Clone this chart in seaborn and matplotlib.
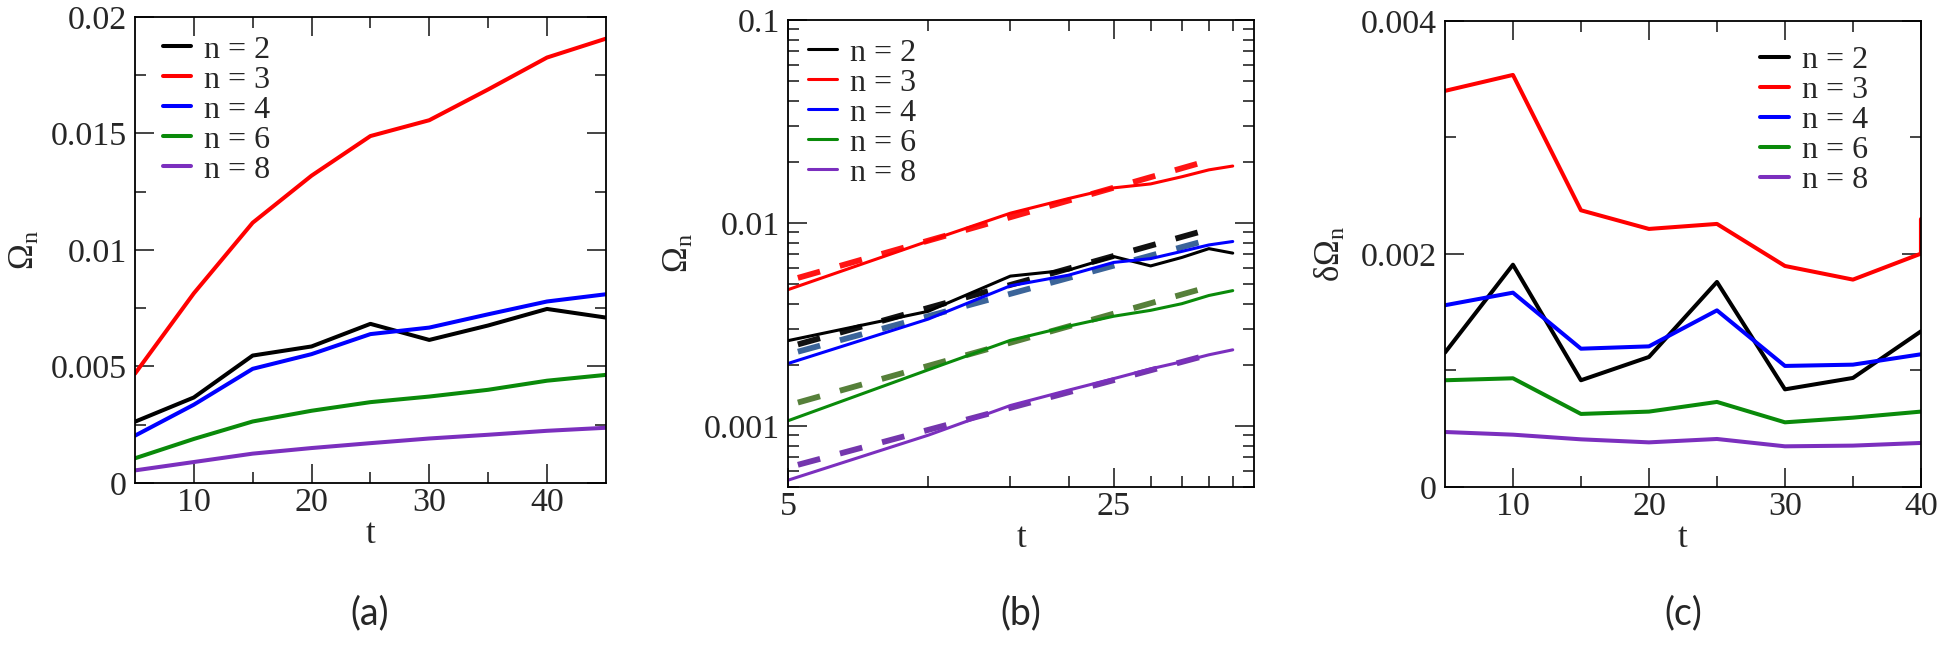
import matplotlib
matplotlib.use('Agg')
import matplotlib.pyplot as plt
import seaborn as sns

# values
t_a = [5, 10, 15, 20, 25, 30, 35, 40, 45]
omega_n2 = [0.00263, 0.00367, 0.00547, 0.00586, 0.00683, 0.00614, 0.00676, 0.00747, 0.00710]
omega_n3 = [0.00469, 0.00814, 0.01117, 0.01319, 0.01489, 0.01557, 0.01689, 0.01826, 0.01907]
omega_n4 = [0.00203, 0.00336, 0.00490, 0.00553, 0.00639, 0.00667, 0.00724, 0.00779, 0.00810]
omega_n6 = [0.00106, 0.00189, 0.00264, 0.00310, 0.00347, 0.00371, 0.00400, 0.00439, 0.00464]
omega_n8 = [0.00054, 0.00090, 0.00126, 0.00150, 0.00171, 0.00191, 0.00207, 0.00224, 0.00237]

# power-law fits shown dashed in (b)
fit_t = [5.25, 38.2]
fit_n2 = [0.00252, 0.00903]
fit_n3 = [0.00536, 0.01970]
fit_n4 = [0.00232, 0.00803]
fit_n6 = [0.001303, 0.00470]
fit_n8 = [0.000643, 0.00218]

t_c = [5, 10, 15, 20, 25, 30, 35, 40]
t_c_n3 = [5, 10, 15, 20, 25, 30, 35, 40, 40]
domega_n2 = [0.001153, 0.001908, 0.000916, 0.001116, 0.001760, 0.000838, 0.000936, 0.001336]
domega_n3 = [0.003400, 0.003537, 0.002375, 0.002215, 0.002258, 0.001897, 0.001780, 0.002003, 0.002300]
domega_n4 = [0.001560, 0.001668, 0.001187, 0.001207, 0.001516, 0.001039, 0.001050, 0.001139]
domega_n6 = [0.000916, 0.000933, 0.000627, 0.000647, 0.000730, 0.000555, 0.000595, 0.000647]
domega_n8 = [0.000472, 0.000449, 0.000409, 0.000383, 0.000412, 0.000349, 0.000355, 0.000378]

labels = ['n = 2', 'n = 3', 'n = 4', 'n = 6', 'n = 8']
colors = ['black', '#ff0000', '#0000ff', '#0a8a0a', '#7b2fbe']
fit_colors = ['#111111', '#ff1414', '#3b6499', '#56803a', '#7436ad']

a_yticks = [0, 0.005, 0.01, 0.015, 0.02]
a_yticklabels = ['0', '0.005', '0.01', '0.015', '0.02']
a_xticks = [10, 20, 30, 40]
b_yticks = [0.001, 0.01, 0.1]
b_yticklabels = ['0.001', '0.01', '0.1']
b_xticks = [5, 25]
b_xminor = [10, 15, 20, 30, 35, 40, 45]
c_yticks = [0, 0.002, 0.004]
c_yticklabels = ['0', '0.002', '0.004']
c_xticks = [10, 20, 30, 40]

sns.set_style('ticks')
plt.rcParams['font.family'] = ['Liberation Serif', 'DejaVu Serif']
plt.rcParams['mathtext.fontset'] = 'custom'
plt.rcParams['mathtext.rm'] = 'Liberation Serif'
plt.rcParams['mathtext.it'] = 'Liberation Serif:italic'

fig = plt.figure(figsize=(19.5, 6.64), dpi=100)
ax_a = fig.add_axes([0.0692, 0.2726, 0.2415, 0.7018])
ax_b = fig.add_axes([0.4041, 0.2666, 0.2390, 0.7033])
ax_c = fig.add_axes([0.7410, 0.2666, 0.2441, 0.7018])

# (a) linear plot
for vals, lab, col in zip([omega_n2, omega_n3, omega_n4, omega_n6, omega_n8], labels, colors):
    sns.lineplot(x=t_a, y=vals, color=col, lw=2.9, label=lab, ax=ax_a)

# (b) log-log plot with fits
for vals, col in zip([fit_n2, fit_n3, fit_n4, fit_n6, fit_n8], fit_colors):
    sns.lineplot(x=fit_t, y=vals, color=col, lw=4.2, linestyle=(0, (3.95, 3.52)), ax=ax_b)
for vals, lab, col in zip([omega_n2, omega_n3, omega_n4, omega_n6, omega_n8], labels, colors):
    sns.lineplot(x=t_a, y=vals, color=col, lw=2.2, label=lab, ax=ax_b)

# (c) fluctuations
c_series = [(t_c, domega_n2), (t_c_n3, domega_n3), (t_c, domega_n4), (t_c, domega_n6), (t_c, domega_n8)]
for (tt, vals), lab, col in zip(c_series, labels, colors):
    sns.lineplot(x=tt, y=vals, color=col, lw=2.9, label=lab, ax=ax_c, estimator=None, sort=False)

ax_a.set_xlim(5, 45)
ax_a.set_ylim(0, 0.02)
ax_a.set_xticks(a_xticks)
ax_a.set_xticks([15, 25, 35], minor=True)
ax_a.set_yticks(a_yticks, a_yticklabels)
ax_a.set_yticks([0.0025, 0.0075, 0.0125, 0.0175], minor=True)

ax_b.set_xscale('log')
ax_b.set_yscale('log')
ax_b.set_xlim(5, 50)
ax_b.set_ylim(0.0005, 0.1)
ax_b.set_xticks(b_xticks, ['5', '25'])
ax_b.set_xticks(b_xminor, minor=True)
ax_b.xaxis.set_minor_formatter(matplotlib.ticker.NullFormatter())
ax_b.set_yticks(b_yticks, b_yticklabels)
ax_b.set_yticks([k * 0.0001 for k in range(5, 10)] + [k * 0.001 for k in range(2, 10)]
                + [k * 0.01 for k in range(2, 10)], minor=True)
ax_b.yaxis.set_minor_formatter(matplotlib.ticker.NullFormatter())

ax_c.set_xlim(5, 40)
ax_c.set_ylim(0, 0.004)
ax_c.set_xticks(c_xticks)
ax_c.set_xticks([15, 25, 35], minor=True)
ax_c.set_yticks(c_yticks, c_yticklabels)
ax_c.set_yticks([0.001, 0.003], minor=True)

ylabels = ['Ω$_{\\mathrm{n}}$', 'Ω$_{\\mathrm{n}}$', 'δΩ$_{\\mathrm{n}}$']
ylab_x = [-0.2335, -0.234, -0.2395]
leg_pos = [(0.059, 0.961), (0.043, 0.961), (0.662, 0.947)]
for ax, yl, yx, lp in zip([ax_a, ax_b, ax_c], ylabels, ylab_x, leg_pos):
    ax.tick_params(which='both', direction='in', top=True, right=True,
                   color='#444444', width=1.4, labelsize=24.5)
    ax.tick_params(which='major', length=14, pad=3)
    ax.tick_params(which='minor', length=8)
    ax.tick_params(axis='y', which='major', pad=6)
    for sp in ax.spines.values():
        sp.set_linewidth(1.3)
        sp.set_color('black')
    ax.set_xlabel('t', fontsize=25)
    ax.xaxis.set_label_coords(0.5, -0.11)
    ax.xaxis.label.set_va('center')
    ax.set_ylabel(yl, fontsize=25)
    ax.yaxis.set_label_coords(yx, 0.5)
    ax.yaxis.label.set_va('center')
    ax.legend(loc='upper left', bbox_to_anchor=lp, frameon=False, fontsize=23,
              borderpad=0, borderaxespad=0, handlelength=0.9, handletextpad=0.4,
              labelspacing=0.02)

for xpos, txt in zip([0.1897, 0.5236, 0.863], ['(a)', '(b)', '(c)']):
    fig.text(xpos, 0.0768, txt, ha='center', va='center', fontsize=27, family=['Lato', 'DejaVu Sans'])

plt.savefig('out.png', dpi=100)
